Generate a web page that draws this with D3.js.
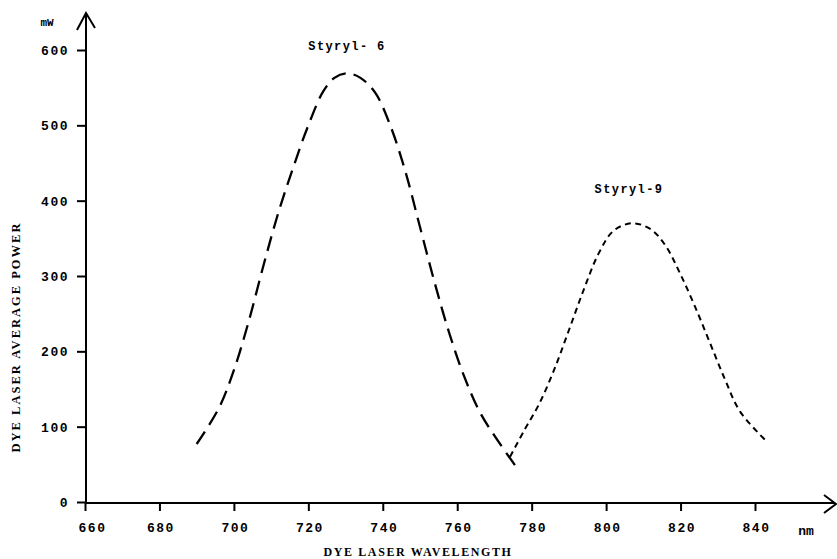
<!DOCTYPE html>
<html><head><meta charset="utf-8">
<script src="https://cdn.jsdelivr.net/npm/d3@7"></script>
<style>
html,body{margin:0;padding:0;background:#fff;}
svg{display:block;}
.tick text{font-family:"Liberation Mono",monospace;font-weight:bold;font-size:13px;letter-spacing:1.5px;fill:#000;}
.tick line{stroke:#000;stroke-width:2px;}
</style></head>
<body>
<script>
const xTicks = [660,680,700,720,740,760,780,800,820,840];
const yTicks = [0,100,200,300,400,500,600];
const styryl6_nm = [690,696,700,704,708,712,716,720,724,727,730.4,734,738,742,746,750,754,758,762,766,770,775.5];
const styryl6_mW = [77,125,175,240,315,385,445,500,545,563,569,563,543,500,440,365,290,222,165,120,88,49];
const styryl9_nm = [774.2,778,782,786,790,794,798,802,807,812,816,820,824,828,832,836,843.2];
const styryl9_mW = [60,95,130,175,228,282,330,360,370,362,340,302,258,210,162,120,80];

const W = 837, H = 559;
const svg = d3.select("body").append("svg").attr("width", W).attr("height", H);
const x = d3.scaleLinear().domain([660, 840]).range([85, 755]);
const y = d3.scaleLinear().domain([0, 600]).range([502, 50]);

const gx = svg.append("g").attr("transform", "translate(0,503)")
  .call(d3.axisBottom(x).tickValues(xTicks).tickSize(8).tickPadding(12).tickFormat(d3.format("d")));
gx.select(".domain").remove();
gx.selectAll(".tick text").attr("dx", d => d === 660 ? 7 : 1);

const gy = svg.append("g").attr("transform", "translate(86,0)")
  .call(d3.axisLeft(y).tickValues(yTicks).tickSize(9).tickPadding(8).tickFormat(d3.format("d")));
gy.select(".domain").remove();
gy.selectAll(".tick text").attr("dy", "0.35em");

svg.append("line").attr("x1", 86).attr("y1", 503).attr("x2", 86).attr("y2", 14)
  .attr("stroke", "#000").attr("stroke-width", 2);
svg.append("path").attr("d", "M77,30 L86,13 L95,28").attr("fill", "none").attr("stroke", "#000").attr("stroke-width", 2);
svg.append("line").attr("x1", 85).attr("y1", 503).attr("x2", 835).attr("y2", 503)
  .attr("stroke", "#000").attr("stroke-width", 2.2);
svg.append("path").attr("d", "M824,495 L836,504 L824,513").attr("fill", "none").attr("stroke", "#000").attr("stroke-width", 2);

svg.append("text").attr("x", 47).attr("y", 26).attr("text-anchor", "middle").attr("fill", "#000")
  .style("font-family", "Liberation Mono, monospace").style("font-weight", "bold").style("font-size", "11px")
  .text("mW");
svg.append("text").attr("x", 806).attr("y", 535).attr("text-anchor", "middle").attr("fill", "#000")
  .style("font-family", "Liberation Mono, monospace").style("font-weight", "bold").style("font-size", "13px")
  .text("nm");

svg.append("text").attr("x", 418).attr("y", 556).attr("text-anchor", "middle")
  .style("font-family", "Liberation Serif, serif").style("font-weight", "bold").style("font-size", "12px")
  .style("letter-spacing", "1.6px").text("DYE LASER WAVELENGTH");
svg.append("text").attr("transform", "translate(20,337) rotate(-90)").attr("text-anchor", "middle")
  .style("font-family", "Liberation Serif, serif").style("font-weight", "bold").style("font-size", "12.5px")
  .style("letter-spacing", "2px").text("DYE LASER AVERAGE POWER");

const line = d3.line().x(d => x(d[0])).y(d => y(d[1])).curve(d3.curveCatmullRom.alpha(0.5));
const s6 = styryl6_nm.map((v, i) => [v, styryl6_mW[i]]);
const s9 = styryl9_nm.map((v, i) => [v, styryl9_mW[i]]);
svg.append("path").datum(s6).attr("d", line).attr("fill", "none").attr("stroke", "#000")
  .attr("stroke-width", 2.3).attr("stroke-dasharray", "15,8");
svg.append("path").datum(s9).attr("d", line).attr("fill", "none").attr("stroke", "#000")
  .attr("stroke-width", 2).attr("stroke-dasharray", "6,4.5");

svg.append("text").attr("x", 347).attr("y", 50).attr("text-anchor", "middle")
  .style("font-family", "Liberation Mono, monospace").style("font-weight", "bold").style("font-size", "12px")
  .style("letter-spacing", "1.4px").text("Styryl- 6");
svg.append("text").attr("x", 629).attr("y", 193).attr("text-anchor", "middle")
  .style("font-family", "Liberation Mono, monospace").style("font-weight", "bold").style("font-size", "12px")
  .style("letter-spacing", "1.4px").text("Styryl-9");
</script>
</body></html>
